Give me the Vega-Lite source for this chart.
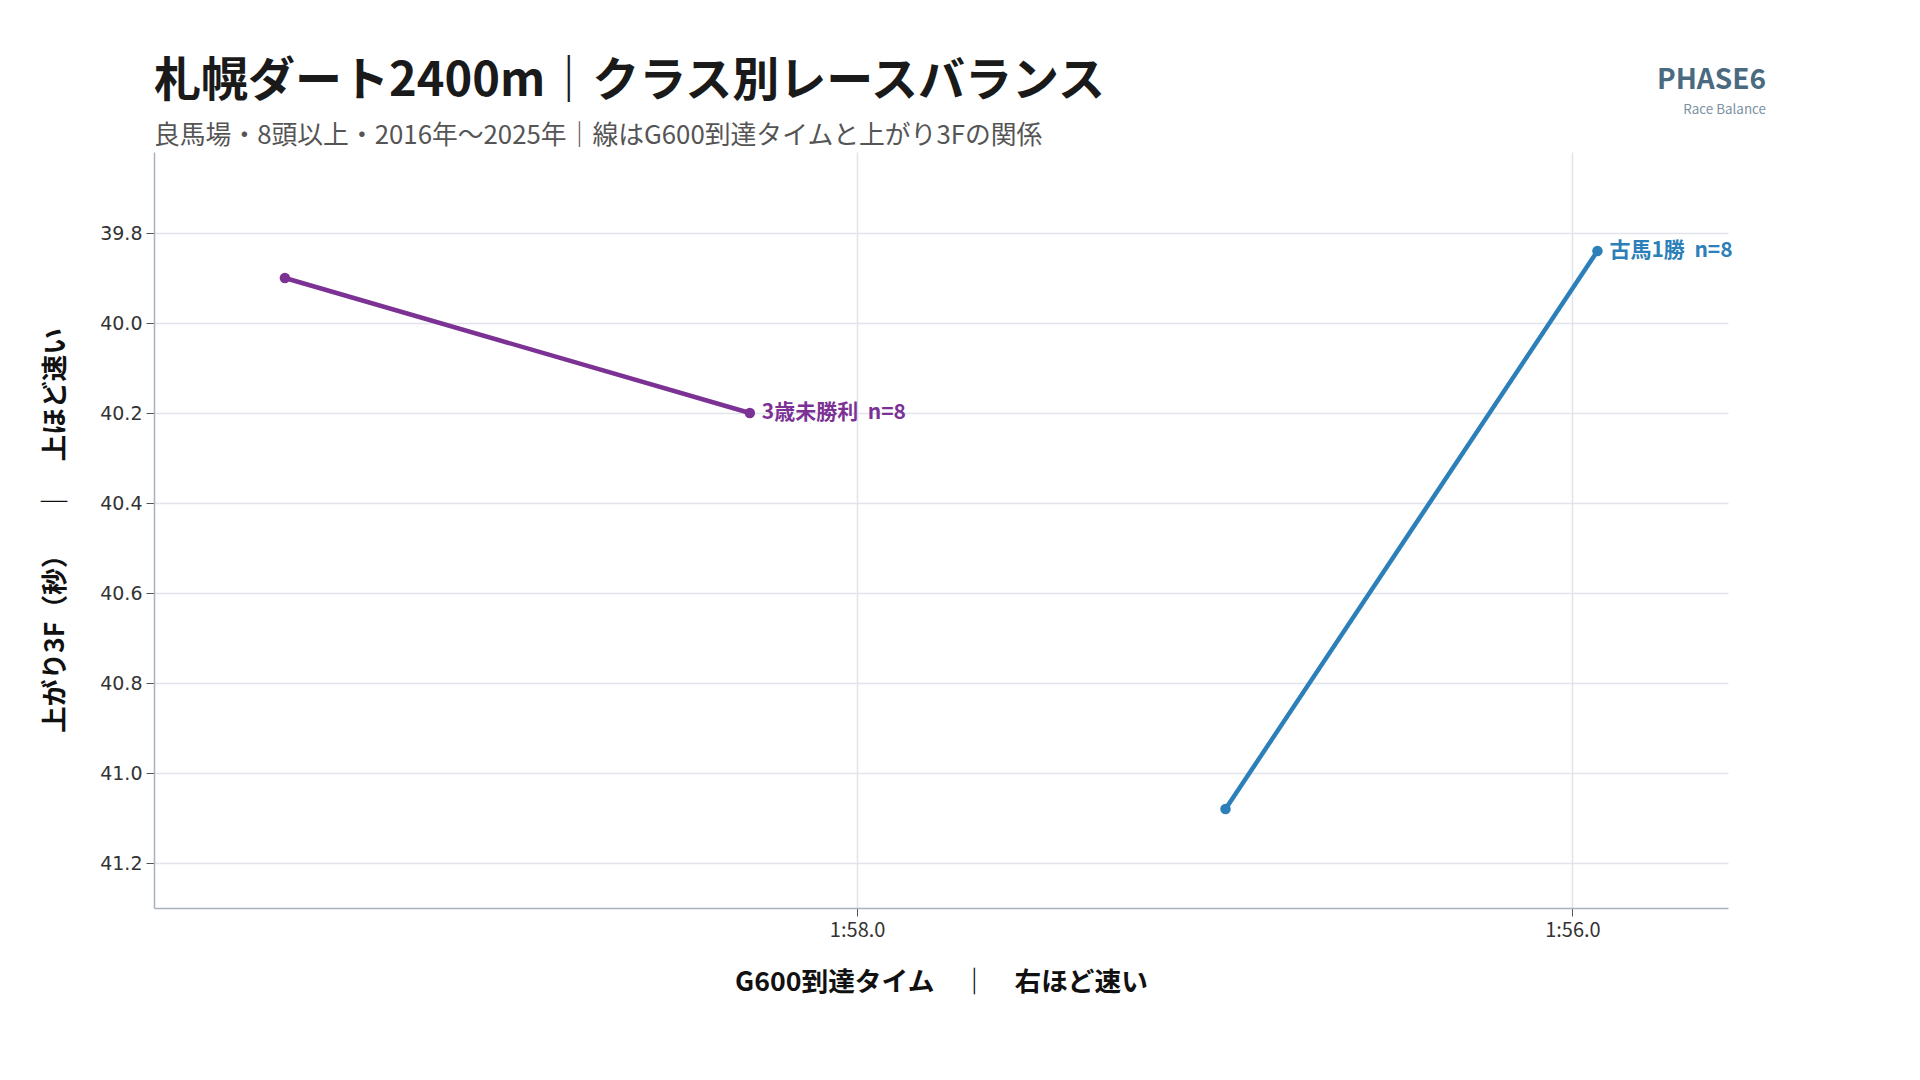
{
  "$schema": "https://vega.github.io/schema/vega-lite/v6.json",
  "description": "Sapporo dirt 2400m race balance by class",
  "autosize": "none",
  "width": 1574,
  "height": 756,
  "padding": {"left": 154, "top": 152, "right": 192, "bottom": 172},
  "background": "white",
  "title": {
    "text": "札幌ダート2400m｜クラス別レースバランス",
    "subtitle": "良馬場・8頭以上・2016年〜2025年｜線はG600到達タイムと上がり3Fの関係",
    "anchor": "start",
    "frame": "group",
    "font": "Noto Sans CJK JP",
    "fontSize": 47,
    "fontWeight": "bold",
    "color": "#1a1a1a",
    "subtitleFont": "Noto Sans CJK JP",
    "subtitleFontSize": 25.8,
    "subtitleColor": "#555555",
    "subtitlePadding": 18.5,
    "offset": -83
  },
  "config": {
    "view": {"stroke": null},
    "font": "Noto Sans CJK JP"
  },
  "datasets": {
    "classes": [
      {"cls": "3歳未勝利", "n": 8, "g600": 119.60, "f3": 39.90, "end": false},
      {"cls": "3歳未勝利", "n": 8, "g600": 118.30, "f3": 40.20, "end": true},
      {"cls": "古馬1勝", "n": 8, "g600": 116.97, "f3": 41.08, "end": false},
      {"cls": "古馬1勝", "n": 8, "g600": 115.93, "f3": 39.84, "end": true}
    ],
    "brand": [
      {"name": "PHASE6", "tag": "Race Balance"}
    ]
  },
  "layer": [
    {
      "data": {"name": "classes"},
      "mark": {"type": "line", "strokeWidth": 4.5},
      "encoding": {
        "x": {
          "field": "g600",
          "type": "quantitative",
          "scale": {"domain": [115.565, 119.966], "reverse": true, "nice": false, "zero": false},
          "axis": {
            "values": [116, 118],
            "labelExpr": "floor(datum.value / 60) + ':' + format(datum.value % 60, '04.1f')",
            "title": "G600到達タイム　｜　右ほど速い",
            "titleFont": "Noto Sans CJK JP",
            "titleFontSize": 26.7,
            "titleFontWeight": "bold",
            "titleColor": "#111111",
            "titlePadding": 29,
            "labelFont": "Noto Sans CJK JP",
            "labelFontSize": 20,
            "labelColor": "#333333",
            "labelPadding": 4,
            "tickSize": 8,
            "tickColor": "#555555",
            "domainColor": "#aab1be",
            "domainWidth": 1.5,
            "gridColor": "#e1e4eb",
            "gridWidth": 1.5
          }
        },
        "y": {
          "field": "f3",
          "type": "quantitative",
          "scale": {"domain": [39.62, 41.30], "reverse": true, "nice": false, "zero": false},
          "axis": {
            "values": [39.8, 40.0, 40.2, 40.4, 40.6, 40.8, 41.0, 41.2],
            "format": ".1f",
            "title": "上がり3F（秒）\u3000\u2002｜\u3000上ほど速い",
            "titleFont": "Noto Sans CJK JP",
            "titleFontSize": 26.7,
            "titleFontWeight": "bold",
            "titleColor": "#111111",
            "titlePadding": 30,
            "labelFont": "DejaVu Sans",
            "labelFontSize": 19,
            "labelColor": "#333333",
            "labelPadding": 4,
            "tickSize": 8,
            "tickColor": "#555555",
            "domainColor": "#aab1be",
            "domainWidth": 1.5,
            "gridColor": "#e1e4eb",
            "gridWidth": 1.5
          }
        },
        "color": {
          "field": "cls",
          "type": "nominal",
          "scale": {"domain": ["3歳未勝利", "古馬1勝"], "range": ["#7b3294", "#2c7fb8"]},
          "legend": null
        },
        "detail": {"field": "cls"}
      }
    },
    {
      "data": {"name": "classes"},
      "mark": {"type": "point", "filled": true, "size": 110, "opacity": 1},
      "encoding": {
        "x": {"field": "g600", "type": "quantitative"},
        "y": {"field": "f3", "type": "quantitative"},
        "color": {"field": "cls", "type": "nominal", "legend": null}
      }
    },
    {
      "data": {"name": "classes"},
      "transform": [
        {"filter": "datum.end"},
        {"calculate": "datum.cls + '\u00a0\u00a0n=' + datum.n", "as": "label"}
      ],
      "mark": {"type": "text", "align": "left", "baseline": "middle", "dx": 12, "fontSize": 21, "fontWeight": "bold", "font": "Noto Sans CJK JP"},
      "encoding": {
        "x": {"field": "g600", "type": "quantitative"},
        "y": {"field": "f3", "type": "quantitative"},
        "text": {"field": "label"},
        "color": {"field": "cls", "type": "nominal", "legend": null}
      }
    },
    {
      "data": {"name": "brand"},
      "mark": {"type": "text", "align": "right", "baseline": "middle", "dx": 38, "dy": -71, "fontSize": 28, "fontWeight": "bold", "font": "Noto Sans CJK JP", "color": "#4a6a80"},
      "encoding": {
        "x": {"datum": 115.565, "type": "quantitative"},
        "y": {"datum": 39.62, "type": "quantitative"},
        "text": {"field": "name"}
      }
    },
    {
      "data": {"name": "brand"},
      "mark": {"type": "text", "align": "right", "baseline": "middle", "dx": 38, "dy": -42, "fontSize": 13.4, "font": "Noto Sans CJK JP", "color": "#7d91a1"},
      "encoding": {
        "x": {"datum": 115.565, "type": "quantitative"},
        "y": {"datum": 39.62, "type": "quantitative"},
        "text": {"field": "tag"}
      }
    }
  ]
}
